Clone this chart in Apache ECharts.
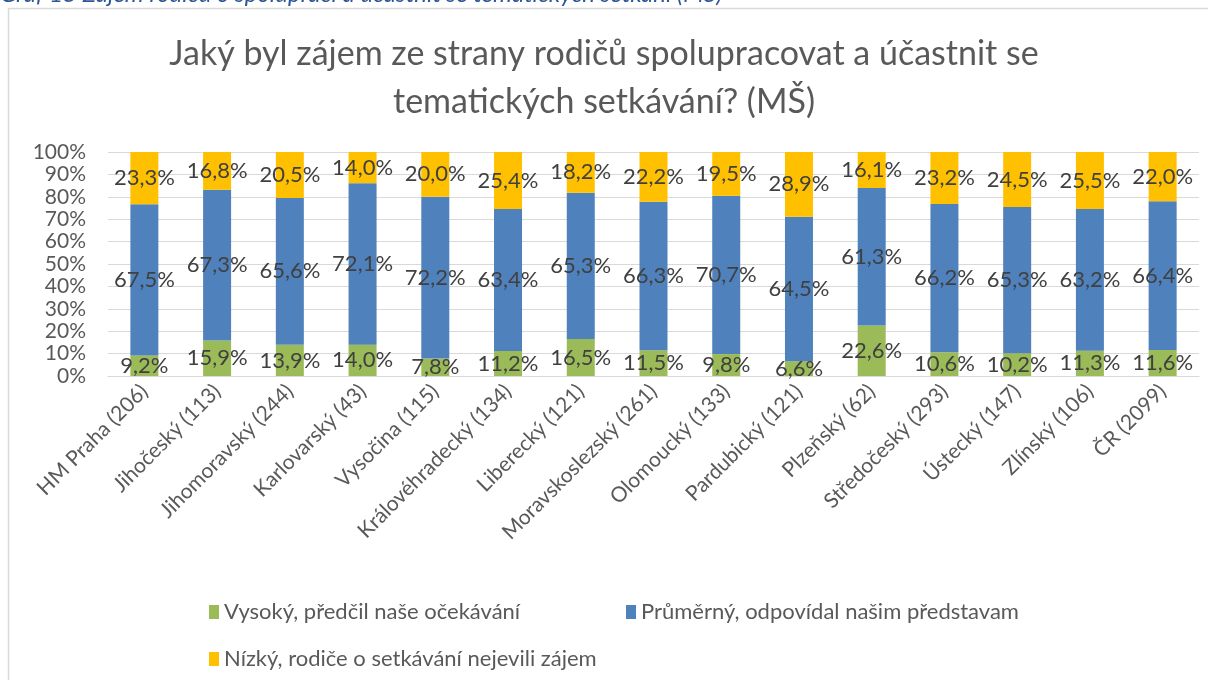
<!DOCTYPE html>
<html>
<head>
<meta charset="utf-8">
<script src="https://cdn.jsdelivr.net/npm/echarts@6/dist/echarts.min.js"></script>
<style>
  html, body { margin: 0; padding: 0; background: #fff; }
  #chart { width: 1208px; height: 680px; }
</style>
</head>
<body>
<div id="chart"></div>
<script>
// kraje a pocet respondentu
var categories = ['HM Praha (206)', 'Jihočeský (113)', 'Jihomoravský (244)', 'Karlovarský (43)', 'Vysočina (115)',
    'Královéhradecký (134)', 'Liberecký (121)', 'Moravskoslezský (261)', 'Olomoucký (133)', 'Pardubický (121)',
    'Plzeňský (62)', 'Středočeský (293)', 'Ústecký (147)', 'Zlínský (106)', 'ČR (2099)'];

var seriesNames = ['Vysoký, předčil naše očekávání', 'Průměrný, odpovídal našim představam', 'Nízký, rodiče o setkávání nejevili zájem'];

var vysoky = [9.2, 15.9, 13.9, 14.0, 7.8, 11.2, 16.5, 11.5, 9.8, 6.6, 22.6, 10.6, 10.2, 11.3, 11.6];
var prumerny = [67.5, 67.3, 65.6, 72.1, 72.2, 63.4, 65.3, 66.3, 70.7, 64.5, 61.3, 66.2, 65.3, 63.2, 66.4];
var nizky = [23.3, 16.8, 20.5, 14.0, 20.0, 25.4, 18.2, 22.2, 19.5, 28.9, 16.1, 23.2, 24.5, 25.5, 22.0];

var yTicks = [0, 10, 20, 30, 40, 50, 60, 70, 80, 90, 100];

var colors = ['#9BBB59', '#4F81BD', '#FFC000'];
var fontName = 'Lato, "Open Sans", sans-serif';

function fmt(v) {
    return v.toFixed(1).replace('.', ',') + '%';
}

var chart = echarts.init(document.getElementById('chart'));

function makeSeries(name, data, color) {
    return {
        name: name,
        type: 'bar',
        stack: 'total',
        barWidth: 28,
        itemStyle: { color: color },
        label: {
            show: true,
            position: 'inside',
            color: '#404040',
            fontSize: 22,
            fontFamily: fontName,
            formatter: function (p) { return fmt(p.value); }
        },
        data: data
    };
}

var legendText = { color: '#595959', fontSize: 22, fontFamily: fontName };

var option = {
    animation: false,
    textStyle: { fontFamily: fontName },
    title: {
        text: 'Jaký byl zájem ze strany rodičů spolupracovat a účastnit se\ntematických setkávání? (MŠ)',
        left: 'center',
        top: 25,
        textStyle: { color: '#595959', fontSize: 34, fontWeight: 'normal', lineHeight: 48, fontFamily: fontName }
    },
    graphic: [
        {
            type: 'rect',
            shape: { x: 8.5, y: 8.5, width: 1220, height: 700 },
            style: { fill: 'none', stroke: '#d9d9d9', lineWidth: 1.5 }
        },
        {
            type: 'text',
            left: 0,
            top: -18,
            style: {
                text: 'Graf 15 Zájem rodičů o spolupráci a účastnit se tematických setkání (MŠ)',
                fill: '#2E5597',
                font: 'italic 24px ' + fontName
            }
        }
    ],
    legend: [
        { data: [seriesNames[0]], left: 204, top: 596, icon: 'rect', itemWidth: 10, itemHeight: 14, textStyle: legendText },
        { data: [seriesNames[1]], left: 621, top: 596, icon: 'rect', itemWidth: 10, itemHeight: 14, textStyle: legendText },
        { data: [seriesNames[2]], left: 204, top: 643, icon: 'rect', itemWidth: 10, itemHeight: 14, textStyle: legendText }
    ],
    grid: {
        left: 108,
        right: 9,
        top: 152,
        bottom: 304
    },
    xAxis: {
        type: 'category',
        data: categories,
        axisLine: { lineStyle: { color: '#d9d9d9', width: 1 } },
        axisTick: { show: false },
        axisLabel: {
            rotate: 45,
            interval: 0,
            margin: 12,
            color: '#595959',
            fontSize: 21,
            fontFamily: fontName
        }
    },
    yAxis: {
        type: 'value',
        min: yTicks[0],
        max: yTicks[yTicks.length - 1],
        interval: 10,
        axisLine: { show: false },
        axisTick: { show: false },
        splitLine: { lineStyle: { color: '#d9d9d9', width: 1 } },
        axisLabel: {
            margin: 22,
            color: '#595959',
            fontSize: 21,
            fontFamily: fontName,
            formatter: '{value}%'
        }
    },
    series: [
        makeSeries(seriesNames[0], vysoky, colors[0]),
        makeSeries(seriesNames[1], prumerny, colors[1]),
        makeSeries(seriesNames[2], nizky, colors[2])
    ]
};

chart.setOption(option);
</script>
</body>
</html>
